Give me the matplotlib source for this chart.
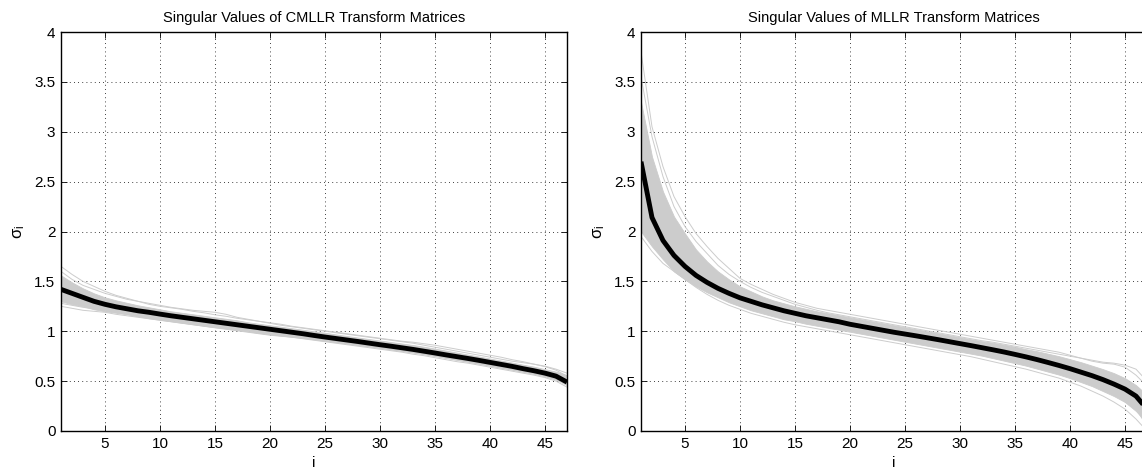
import matplotlib
matplotlib.use("Agg")
import matplotlib.pyplot as plt
from matplotlib.ticker import FuncFormatter

plt.rcParams['font.family'] = ['Liberation Sans', 'DejaVu Sans']
plt.rcParams['mathtext.fontset'] = 'custom'
plt.rcParams['mathtext.rm'] = 'Liberation Sans'
plt.rcParams['mathtext.it'] = 'Liberation Sans'

index = list(range(1, 48))

# ---- CMLLR transforms ----
cmllr_mean = [1.42, 1.38, 1.34, 1.30, 1.27, 1.245, 1.225, 1.205, 1.19, 1.172, 1.155, 1.14, 1.125,
              1.11, 1.095, 1.08, 1.065, 1.05, 1.035, 1.02, 1.005, 0.99, 0.975, 0.958, 0.942,
              0.927, 0.912, 0.897, 0.881, 0.865, 0.85, 0.834, 0.818, 0.80, 0.782, 0.763, 0.745,
              0.727, 0.708, 0.688, 0.668, 0.648, 0.625, 0.604, 0.58, 0.55, 0.49]
cmllr_lo = [1.30, 1.27, 1.25, 1.22, 1.20, 1.185, 1.17, 1.15, 1.13, 1.115, 1.10, 1.085, 1.07,
            1.055, 1.04, 1.03, 1.015, 1.0, 0.985, 0.97, 0.957, 0.944, 0.932, 0.918, 0.904,
            0.89, 0.876, 0.862, 0.848, 0.834, 0.818, 0.802, 0.787, 0.769, 0.752, 0.733, 0.714,
            0.697, 0.677, 0.657, 0.637, 0.617, 0.596, 0.573, 0.548, 0.515, 0.46]
cmllr_hi = [1.56, 1.49, 1.43, 1.38, 1.34, 1.31, 1.285, 1.26, 1.24, 1.22, 1.20, 1.185, 1.17,
            1.155, 1.14, 1.125, 1.11, 1.09, 1.075, 1.06, 1.045, 1.03, 1.015, 1.0, 0.985,
            0.968, 0.952, 0.937, 0.922, 0.907, 0.892, 0.877, 0.862, 0.845, 0.826, 0.806, 0.786,
            0.766, 0.746, 0.726, 0.706, 0.686, 0.665, 0.645, 0.62, 0.595, 0.56]
cmllr_runs = [
    [1.65, 1.57, 1.50, 1.45, 1.40, 1.36, 1.33, 1.30, 1.28, 1.26, 1.24, 1.225, 1.21, 1.20, 1.19,
     1.17, 1.14, 1.12, 1.10, 1.08, 1.06, 1.045, 1.03, 1.015, 1.0, 0.985, 0.97, 0.955, 0.94,
     0.925, 0.91, 0.895, 0.88, 0.86, 0.84, 0.82, 0.80, 0.78, 0.76, 0.74, 0.72, 0.70, 0.685,
     0.67, 0.65, 0.62, 0.58],
    [1.25, 1.23, 1.21, 1.20, 1.19, 1.17, 1.155, 1.14, 1.125, 1.11, 1.095, 1.08, 1.065, 1.05,
     1.035, 1.02, 1.005, 0.99, 0.975, 0.96, 0.95, 0.94, 0.925, 0.91, 0.895, 0.88, 0.865, 0.85,
     0.835, 0.82, 0.805, 0.79, 0.77, 0.755, 0.735, 0.715, 0.695, 0.68, 0.66, 0.64, 0.62, 0.60,
     0.58, 0.56, 0.535, 0.50, 0.44],
    [1.60, 1.52, 1.46, 1.42, 1.38, 1.35, 1.32, 1.30, 1.27, 1.25, 1.235, 1.22, 1.20, 1.185,
     1.165, 1.15, 1.13, 1.115, 1.10, 1.085, 1.07, 1.05, 1.035, 1.02, 1.005, 0.99, 0.975, 0.96,
     0.945, 0.93, 0.915, 0.90, 0.89, 0.875, 0.86, 0.84, 0.82, 0.80, 0.78, 0.76, 0.74, 0.715,
     0.695, 0.67, 0.645, 0.61, 0.55],
    [1.28, 1.26, 1.24, 1.225, 1.21, 1.19, 1.17, 1.15, 1.135, 1.12, 1.10, 1.085, 1.07, 1.055,
     1.04, 1.025, 1.01, 0.995, 0.98, 0.965, 0.955, 0.945, 0.935, 0.92, 0.905, 0.89, 0.875,
     0.86, 0.845, 0.83, 0.815, 0.80, 0.785, 0.77, 0.75, 0.73, 0.71, 0.69, 0.67, 0.65, 0.63,
     0.61, 0.59, 0.57, 0.55, 0.52, 0.47],
]

# ---- MLLR transforms ----
mllr_mean = [2.70, 2.14, 1.91, 1.76, 1.65, 1.56, 1.49, 1.43, 1.38, 1.335, 1.30, 1.265, 1.235,
             1.205, 1.18, 1.155, 1.135, 1.115, 1.095, 1.07, 1.05, 1.03, 1.01, 0.99, 0.972,
             0.954, 0.935, 0.916, 0.896, 0.876, 0.856, 0.835, 0.814, 0.792, 0.768, 0.743,
             0.716, 0.687, 0.657, 0.625, 0.59, 0.555, 0.515, 0.47, 0.42, 0.35, 0.22]
mllr_lo = [2.0, 1.85, 1.72, 1.60, 1.52, 1.45, 1.39, 1.34, 1.29, 1.25, 1.21, 1.18, 1.15, 1.12,
           1.10, 1.075, 1.055, 1.035, 1.015, 0.995, 0.975, 0.955, 0.935, 0.915, 0.895, 0.875,
           0.855, 0.835, 0.815, 0.795, 0.775, 0.755, 0.73, 0.705, 0.68, 0.655, 0.625, 0.595,
           0.565, 0.53, 0.49, 0.45, 0.40, 0.35, 0.29, 0.20, 0.08]
mllr_hi = [3.3, 2.75, 2.40, 2.15, 1.98, 1.82, 1.70, 1.60, 1.52, 1.45, 1.40, 1.35, 1.31, 1.28,
           1.25, 1.225, 1.20, 1.18, 1.16, 1.14, 1.12, 1.10, 1.08, 1.06, 1.04, 1.02, 1.0, 0.98,
           0.96, 0.94, 0.92, 0.90, 0.885, 0.865, 0.845, 0.82, 0.80, 0.775, 0.75, 0.72, 0.69,
           0.655, 0.62, 0.58, 0.53, 0.46, 0.36]
mllr_runs = [
    [3.80, 3.05, 2.65, 2.35, 2.15, 1.98, 1.85, 1.73, 1.63, 1.53, 1.47, 1.42, 1.37, 1.33, 1.29,
     1.26, 1.23, 1.21, 1.19, 1.17, 1.15, 1.13, 1.11, 1.09, 1.07, 1.05, 1.03, 1.01, 0.99, 0.97,
     0.95, 0.93, 0.91, 0.89, 0.87, 0.85, 0.83, 0.81, 0.79, 0.76, 0.73, 0.70, 0.68, 0.67, 0.64,
     0.56, 0.45],
    [1.95, 1.80, 1.68, 1.60, 1.52, 1.44, 1.37, 1.31, 1.26, 1.22, 1.18, 1.15, 1.12, 1.09, 1.065,
     1.045, 1.025, 1.005, 0.985, 0.965, 0.945, 0.925, 0.905, 0.885, 0.865, 0.845, 0.825, 0.805,
     0.785, 0.765, 0.745, 0.72, 0.695, 0.67, 0.645, 0.62, 0.59, 0.56, 0.53, 0.49, 0.45, 0.40,
     0.35, 0.29, 0.22, 0.12, 0.0],
    [3.55, 2.95, 2.55, 2.25, 2.05, 1.90, 1.78, 1.66, 1.57, 1.50, 1.44, 1.39, 1.35, 1.31, 1.27,
     1.24, 1.21, 1.185, 1.165, 1.145, 1.125, 1.105, 1.085, 1.065, 1.045, 1.025, 1.005, 0.985,
     0.965, 0.945, 0.925, 0.905, 0.89, 0.87, 0.85, 0.83, 0.81, 0.79, 0.77, 0.75, 0.73, 0.71,
     0.69, 0.68, 0.66, 0.62, 0.50],
    [2.2, 2.0, 1.85, 1.72, 1.62, 1.53, 1.46, 1.40, 1.35, 1.30, 1.26, 1.22, 1.19, 1.16, 1.13,
     1.10, 1.08, 1.06, 1.04, 1.02, 1.00, 0.98, 0.96, 0.94, 0.92, 0.90, 0.88, 0.86, 0.84, 0.82,
     0.80, 0.78, 0.76, 0.73, 0.70, 0.67, 0.64, 0.61, 0.58, 0.55, 0.51, 0.47, 0.42, 0.37, 0.30,
     0.22, 0.05],
]

titles = ["Singular Values of CMLLR Transform Matrices",
          "Singular Values of MLLR Transform Matrices"]
x_ticks = [5, 10, 15, 20, 25, 30, 35, 40, 45]
y_ticks = [0, 0.5, 1, 1.5, 2, 2.5, 3, 3.5, 4]

GRAY = (0.8, 0.8, 0.8)

fig = plt.figure(figsize=(11.42, 4.72), dpi=100)
ax_l = fig.add_axes([61 / 1142, 41 / 472, 506 / 1142, 399 / 472])
ax_r = fig.add_axes([641 / 1142, 41 / 472, 506 / 1142, 399 / 472])

panels = [
    (ax_l, cmllr_mean, cmllr_lo, cmllr_hi, cmllr_runs, titles[0]),
    (ax_r, mllr_mean, mllr_lo, mllr_hi, mllr_runs, titles[1]),
]

for ax, mean, lo, hi, runs, title in panels:
    ax.fill_between(index, lo, hi, color=GRAY, linewidth=0.6, zorder=2)
    for run in runs:
        ax.plot(index, run, color=GRAY, linewidth=0.7, zorder=2)
    ax.plot(index, mean, color='black', linewidth=3.5, zorder=3, solid_capstyle='butt')

    ax.set_xlim(1, 47)
    ax.set_ylim(0, 4)
    ax.set_xticks(x_ticks)
    ax.set_yticks(y_ticks)
    ax.yaxis.set_major_formatter(FuncFormatter(lambda v, p: f"{v:g}"))
    ax.tick_params(direction='in', top=True, right=True, length=4, width=0.6,
                   labelsize=11, pad=4)
    ax.grid(True, color='black', linestyle=(0, (1, 4)), linewidth=0.6)
    ax.set_axisbelow(True)
    for s in ax.spines.values():
        s.set_linewidth(1.0)
    ax.set_title(title, fontsize=10.5, pad=7)
    ax.set_xlabel('i', fontsize=11, labelpad=4)
    ax.set_ylabel(r'$\sigma_i$', fontsize=12, labelpad=5)

fig.savefig('out.png', dpi=100)
